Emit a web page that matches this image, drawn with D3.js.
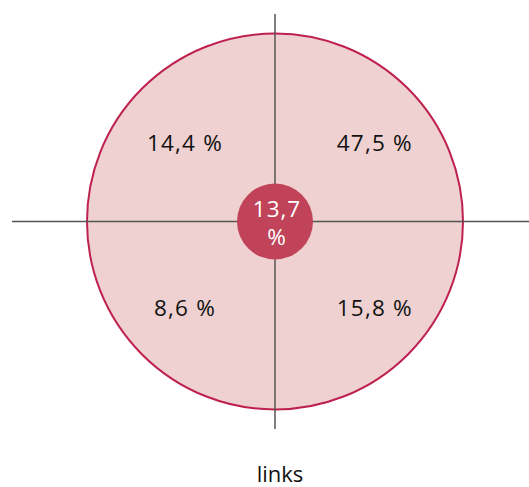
<!DOCTYPE html>
<html>
  <head>
    <meta charset="utf-8">
    <script src="https://d3js.org/d3.v7.min.js"></script>
    <style type="text/css">
body {
  margin: 0;
  background: #fff;
}
text {
  font-family: "Open Sans", "Noto Sans", sans-serif;
}
    </style>
  </head>
  <body>
    <script type="text/javascript">

// quadrant values (percent): top-left, top-right, bottom-left, bottom-right
var quadrants = ["oben links", "oben rechts", "unten links", "unten rechts"],
    qx = [-1, 1, -1, 1],   // column of each quadrant
    qy = [1, 1, -1, -1],   // row of each quadrant
    values = [14.4, 47.5, 8.6, 15.8];

var centerValue = 13.7,
    axisTitle = "links";

var width = 529,
    height = 487,
    cx = 275,
    cy = 221.5,
    R = 188,     // outer circle radius
    r = 38;      // centre circle radius

var fmt = function(v) { return d3.format(".1f")(v).replace(".", ","); };

var svg = d3.select("body").append("svg")
    .attr("width", width)
    .attr("height", height);

// -1..1 maps onto the outer circle
var x = d3.scaleLinear().domain([-1, 1]).range([cx - R, cx + R]),
    y = d3.scaleLinear().domain([-1, 1]).range([cy + R, cy - R]);

svg.append("circle")
    .attr("cx", x(0))
    .attr("cy", y(0))
    .attr("r", R)
    .style("fill", "#eed1d0")
    .style("stroke", "#be2150")
    .style("stroke-width", 2);

// cross hairs
svg.append("line")
    .attr("x1", 12).attr("x2", width)
    .attr("y1", y(0)).attr("y2", y(0))
    .style("stroke", "#555")
    .style("stroke-width", 1.5);
svg.append("line")
    .attr("x1", x(0)).attr("x2", x(0))
    .attr("y1", 14).attr("y2", 429)
    .style("stroke", "#555")
    .style("stroke-width", 1.5);

svg.selectAll("text.quad")
    .data(values)
    .enter().append("text")
    .attr("class", "quad")
    .attr("x", function(d, i) { return x(qx[i] * 0.505 + 0.026); })
    .attr("y", function(d, i) { return y(qy[i] * 0.44 - 0.02); })
    .attr("text-anchor", "middle")
    .attr("dy", "0.36em")
    .style("font-size", "22.5px")
    .style("letter-spacing", "1.2px")
    .style("fill", "#111")
    .text(function(d) { return fmt(d) + " %"; });

svg.append("circle")
    .attr("cx", x(0))
    .attr("cy", y(0))
    .attr("r", r)
    .style("fill", "#c0435a");

svg.append("text")
    .attr("x", x(0) + 2)
    .attr("y", y(0) - 5)
    .attr("text-anchor", "middle")
    .style("font-size", "22.5px")
    .style("letter-spacing", "1px")
    .style("fill", "#fff")
    .text(fmt(centerValue));
svg.append("text")
    .attr("x", x(0) + 1.5)
    .attr("y", y(0) + 23.5)
    .attr("text-anchor", "middle")
    .style("font-size", "22.5px")
    .style("fill", "#fff")
    .text("%");

svg.append("text")
    .attr("x", x(0) + 5)
    .attr("y", 481.5)
    .attr("text-anchor", "middle")
    .style("font-size", "22px")
    .style("fill", "#111")
    .text(axisTitle);

    </script>
  </body>
</html>
